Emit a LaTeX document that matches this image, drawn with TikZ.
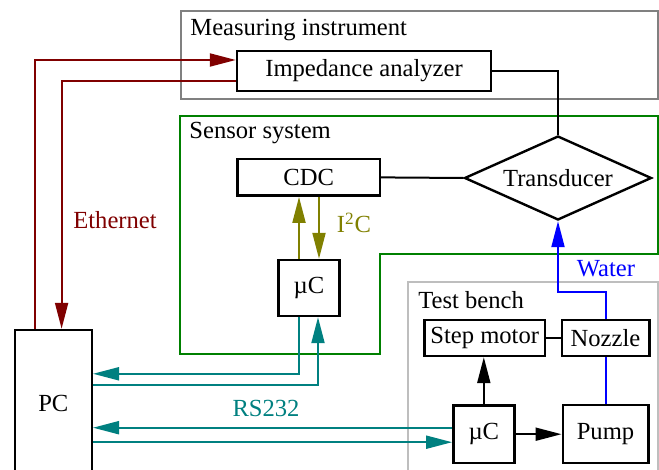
\documentclass[tikz,border=0pt]{standalone}
\usepackage{fontspec}
\setmainfont{Liberation Serif}
\newfontfamily\diagfont{Liberation Serif}
\usetikzlibrary{arrows.meta,shapes.geometric,calc}
\definecolor{ethc}{RGB}{128,0,0}
\definecolor{rsc}{RGB}{0,128,128}
\definecolor{i2cc}{RGB}{128,128,0}
\definecolor{sensc}{RGB}{0,128,0}
\definecolor{measc}{RGB}{128,128,128}
\definecolor{benchc}{RGB}{190,190,190}
\begin{document}
\begin{tikzpicture}[x=0.5pt,y=-0.5pt,
  font=\diagfont\fontsize{12.3}{14}\selectfont,
  blk/.style={draw,line width=1.2pt,inner sep=0pt,fill=white},
  tip/.style={-{Triangle[length=13pt,width=6.5pt]}},
  conn/.style={line width=1pt},
  lbl/.style={anchor=west,inner sep=0pt}]
\useasboundingbox (0,0) rectangle (659,470);
% containers
\draw[measc,line width=1pt] (181,11) rectangle (658,99);
\draw[sensc,line width=1pt] (180,116) -- (658,116) -- (658,254) -- (380,254) -- (380,354) -- (180,354) -- cycle;
\draw[benchc,line width=1pt] (408,282) rectangle (658,490);
\node[lbl] (tmeas) at (190,30) {Measuring instrument};
\node[lbl] (tsens) at (189,133) {Sensor system};
\node[lbl] (tbench) at (418,300) {Test bench};
% blocks
\node[blk,minimum width=127pt,minimum height=20pt] (imp) at (364,71) {Impedance analyzer};
\node[blk,minimum width=71.3pt,minimum height=18.3pt] (cdc) at (308.7,177.4) {CDC};
\node[blk,shape=diamond,aspect=2.2,minimum width=93.5pt,minimum height=42pt] (trans) at (558,178) {Transducer};
\node[blk,minimum width=30.5pt,minimum height=28pt] (smc) at (309,288) {µC};
\node[blk,minimum width=38.5pt,minimum height=73pt] (pc) at (53.3,403) {PC};
\node[blk,minimum width=60.3pt,minimum height=18pt] (step) at (484.7,338) {Step motor};
\node[blk,minimum width=43.8pt,minimum height=18pt] (noz) at (605.5,338) {Nozzle};
\node[blk,minimum width=30.5pt,minimum height=28.5pt] (bmc) at (483.8,434.2) {µC};
\node[blk,minimum width=42.8pt,minimum height=28.8pt] (pump) at (605.5,434) {Pump};
% ethernet
\draw[ethc,conn,tip] ($(pc.north west)+(21,0)$) |- ($(imp.west)+(0,-11)$);
\draw[ethc,conn,tip] ($(imp.west)+(0,10)$) -| ($(pc.north west)+(48,0)$);
\node[ethc] (leth) at (115,220) {Ethernet};
% instrument to transducer
\draw[conn] (imp.east) -| (trans.north);
\draw[conn] (cdc.east) -- (trans.west);
% I2C
\coordinate (ou) at ($(smc.north)+(-10,0)$);
\coordinate (od) at ($(smc.north)+(10,0)$);
\draw[i2cc,conn,tip] (ou) -- (ou |- cdc.south);
\draw[i2cc,conn,tip] (od |- cdc.south) -- (od);
\node[i2cc] (li2c) at (354,223) {I\textsuperscript{2}C};
% RS232
\coordinate (t1) at ($(smc.south)+(-10,0)$);
\coordinate (t2) at ($(smc.south)+(9,0)$);
\draw[rsc,conn,tip] (t1) |- ($(pc.north east)+(0,45)$);
\draw[rsc,conn,tip] ($(pc.north east)+(0,56)$) -| (t2);
\coordinate (t3) at ($(bmc.west)+(0,-6.5)$);
\coordinate (t4) at ($(bmc.west)+(0,8)$);
\draw[rsc,conn,tip] (t3) -- (t3 -| pc.east);
\draw[rsc,conn,tip] (t4 -| pc.east) -- (t4);
\node[rsc] (lrs) at (266,408) {RS232};
% test bench
\draw[conn,tip] (bmc.north) -- (bmc.north |- step.south);
\draw[conn,tip] (bmc.east) -- (bmc.east -| pump.west);
\draw[conn] (step.east) -- (noz.west);
\draw[blue,conn] (noz.south) -- (pump.north);
\draw[blue,conn,tip] (noz.north) -- ++(0,-27) -| (trans.south);
\node[blue] (lwater) at (606,269) {Water};
\end{tikzpicture}
\end{document}
